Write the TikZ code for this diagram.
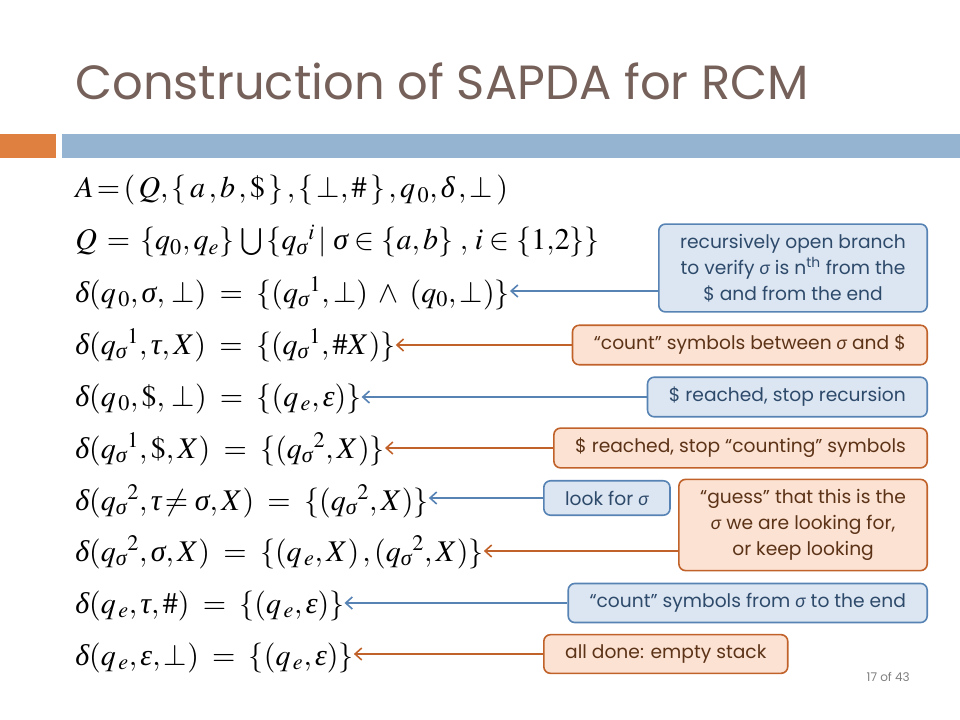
\documentclass[tikz,border=0pt]{standalone}
\usepackage{amsmath}
\usepackage{mathptmx}
\usepackage{fontspec}
\setmainfont{Liberation Serif}
\newfontfamily\gothfont{Poppins}
\newfontfamily\sigfont{Lato}
\usetikzlibrary{arrows.meta}
\definecolor{titlebrown}{RGB}{118,97,90}
\definecolor{barorange}{RGB}{224,128,64}
\definecolor{barblue}{RGB}{148,180,210}
\definecolor{noteblue}{RGB}{220,230,242}
\definecolor{lineblue}{RGB}{86,131,180}
\definecolor{textblue}{RGB}{46,74,107}
\definecolor{noteorange}{RGB}{251,226,211}
\definecolor{lineorange}{RGB}{192,98,42}
\definecolor{textorange}{RGB}{92,51,23}
\newcommand{\sig}{{\sigfont\itshape σ}}
\newcommand{\fdelta}{\text{\itshape δ}}
\newcommand{\fsigma}{\text{\itshape σ}}
\newcommand{\ftau}{\text{\itshape τ}}
\newcommand{\feps}{\text{\itshape ε}}
\begin{document}
\begin{tikzpicture}[x=0.75pt,y=-0.75pt,
  formula/.style={anchor=base west,inner sep=0pt,font=\fontsize{22.5}{27}\selectfont},
  bluenote/.style={draw=lineblue,line width=1.2pt,fill=noteblue,rounded corners=5pt,
    text=textblue,align=center,font=\gothfont\fontsize{14}{19.5}\selectfont,inner xsep=16pt,inner ysep=7.5pt},
  orangenote/.style={bluenote,draw=lineorange,fill=noteorange,text=textorange},
  bluearrow/.style={draw=lineblue,line width=1.2pt,-{Straight Barb[length=5pt,width=9pt]}},
  orangearrow/.style={bluearrow,draw=lineorange}]
 \useasboundingbox (0,0) rectangle (960,720);
 % title and bars
 \node[anchor=base west,inner sep=0pt,text=titlebrown,font=\gothfont\fontsize{36}{44}\selectfont] (title) at (75,100) {Construction of SAPDA for RCM};
 \fill[barorange] (0,134) rectangle (56,158);
 \fill[barblue] (62,134) rectangle (960,158);
 % formulas
 \node[formula] (f1) at (75,198) {$A\!=\!(\,Q,\{\,a\,,b\,,\$\,\}\,,\{\,\bot,\#\,\}\,,q_{\,0},\fdelta\,,\bot\,)$};
 \node[formula] (f2) at (75,250) {$Q\,=\,\{q_0,q_e\}\,\bigcup\,\{q_\fsigma{}^i\,|\;\fsigma\in\{a,b\}\;,\,i\in\{1,\!2\}\}$};
 \node[formula] (f3) at (75,302) {$\fdelta(q_{\,0},\fsigma,\,\bot)\;=\;\{(q_\fsigma{}^1,\bot)\;\wedge\;(q_0,\bot)\}$};
 \node[formula] (f4) at (75,354) {$\fdelta(q_\fsigma{}^1,\ftau,X)\;=\;\{(q_\fsigma{}^1,\#X)\}$};
 \node[formula] (f5) at (75,406) {$\fdelta(q_{\,0},\$,\,\bot)\;=\;\{(q_{\,e},\feps)\}$};
 \node[formula] (f6) at (75,458) {$\fdelta(q_\fsigma{}^1,\$,X)\;=\;\{(q_\fsigma{}^2,X)\}$};
 \node[formula] (f7) at (75,510) {$\fdelta(q_\fsigma{}^2,\ftau\!\neq\fsigma,X)\;=\;\{(q_\fsigma{}^2,X)\}$};
 \node[formula] (f8) at (75,561) {$\fdelta(q_\fsigma{}^2,\fsigma,X)\;=\;\{(q_{\,e},X)\,,(q_\fsigma{}^2,X)\}$};
 \node[formula] (f9) at (75,613) {$\fdelta(q_{\,e},\ftau,\#)\;=\;\{(q_{\,e},\feps)\}$};
 \node[formula] (f10) at (75,665) {$\fdelta(q_{\,e},\feps,\bot)\;=\;\{(q_{\,e},\feps)\}$};
 % notes
 \node[bluenote,anchor=east] (n1) at (928,268) {recursively open branch\\to verify \sig{} is n\textsuperscript{th} from the\\\$ and from the end};
 \node[orangenote,anchor=east] (n2) at (928,345) {“count” symbols between \sig{} and \$};
 \node[bluenote,anchor=east] (n3) at (928,397) {\$ reached, stop recursion};
 \node[orangenote,anchor=east] (n4) at (928,448) {\$ reached, stop “counting” symbols};
 \node[bluenote,anchor=west] (n5) at (543,498) {look for \sig};
 \node[orangenote,anchor=east] (n6) at (928,525) {“guess” that this is the\\\sig{} we are looking for,\\or keep looking};
 \node[bluenote,anchor=east] (n7) at (928,603) {“count” symbols from \sig{} to the end};
 \node[orangenote,anchor=west] (n8) at (543,654) {all done: empty stack};
 % arrows
 \draw[bluearrow] (n1.west |- 0,291) -- (f3.east |- 0,291);
 \draw[orangearrow] (n2.west) -- (n2.west -| f4.east);
 \draw[bluearrow] (n3.west) -- (n3.west -| f5.east);
 \draw[orangearrow] (n4.west) -- (n4.west -| f6.east);
 \draw[bluearrow] (n5.west) -- (n5.west -| f7.east);
 \draw[orangearrow] (n6.west |- 0,551) -- (f8.east |- 0,551);
 \draw[bluearrow] (n7.west) -- (n7.west -| f9.east);
 \draw[orangearrow] (n8.west) -- (n8.west -| f10.east);
 % page number
 \node[anchor=base east,inner sep=0pt,text=gray,font=\gothfont\fontsize{9}{11}\selectfont] (page) at (910,681) {17 of 43};
\end{tikzpicture}
\end{document}
